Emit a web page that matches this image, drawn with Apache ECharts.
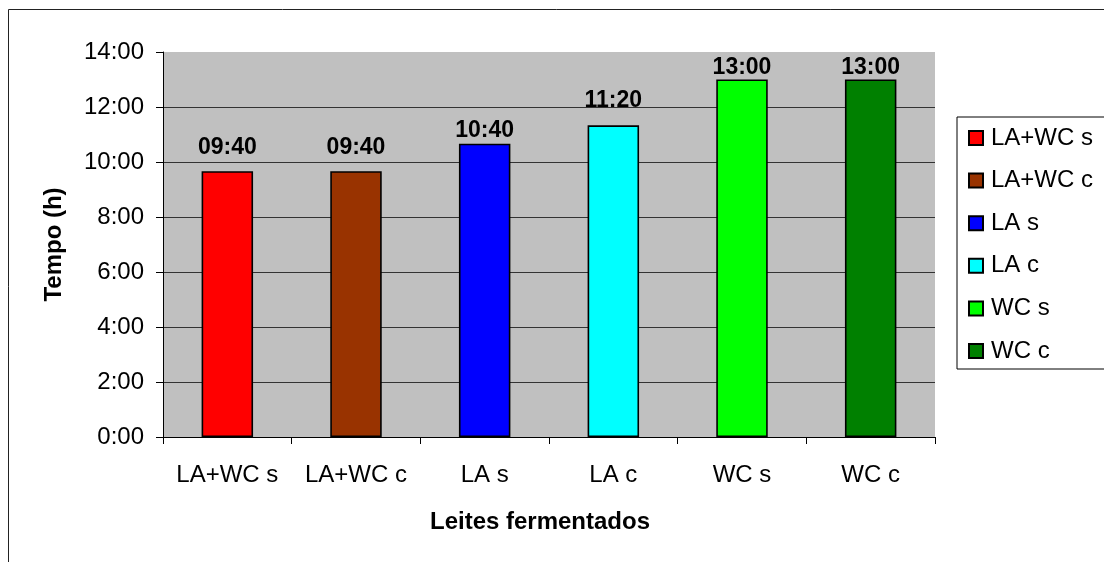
<!DOCTYPE html>
<html>
<head>
<meta charset="utf-8">
<script src="https://cdn.jsdelivr.net/npm/echarts@6/dist/echarts.min.js"></script>
<style>
html,body{margin:0;padding:0;background:#fff;}
#chart{width:1104px;height:562px;}
</style>
</head>
<body>
<div id="chart"></div>
<script>
const categories = ['LA+WC s', 'LA+WC c', 'LA s', 'LA c', 'WC s', 'WC c'];
const valuesMinutes = [580, 580, 640, 680, 780, 780]; // 09:40, 09:40, 10:40, 11:20, 13:00, 13:00
const barColors = ['#FF0000', '#993300', '#0000FF', '#00FFFF', '#00FF00', '#008000'];
const labelDistances = [12, 12, 2, 13, 0, 0]; // style: label gap above each bar
const yMin = 0, yMax = 840, yInterval = 120; // 0:00 .. 14:00 every 2:00

const FONT = "'Liberation Sans', Arial, sans-serif";
function pad2(n) { return (n < 10 ? '0' : '') + n; }
function axisTime(v) { return Math.floor(v / 60) + ':' + pad2(v % 60); }
function labelTime(v) { return pad2(Math.floor(v / 60)) + ':' + pad2(v % 60); }

const series = categories.map((name, i) => ({
  name: name,
  type: 'bar',
  data: categories.map((c, j) => (j === i ? valuesMinutes[i] : '-')),
  barGap: '-100%',
  barWidth: '40%',
  itemStyle: { color: barColors[i], borderColor: '#000', borderWidth: 1.6 },
  label: {
    show: true, position: 'top', distance: labelDistances[i],
    formatter: p => labelTime(p.value),
    fontFamily: FONT, fontWeight: 'bold', fontSize: 23, color: '#000'
  }
}));

const chart = echarts.init(document.getElementById('chart'), null, { renderer: 'canvas' });
chart.setOption({
  animation: false,
  backgroundColor: '#fff',
  textStyle: { fontFamily: FONT },
  graphic: [{
    type: 'rect', z: -10, silent: true,
    shape: { x: 8.5, y: 9.5, width: 1200, height: 700 },
    style: { fill: 'none', stroke: '#222', lineWidth: 1 }
  }],
  grid: {
    left: 163, top: 52, right: 169, bottom: 125,
    show: true, backgroundColor: '#C0C0C0', borderWidth: 0
  },
  legend: {
    orient: 'vertical',
    left: 957, top: 117,
    padding: [9, 40, 6, 11],
    itemGap: 18.6,
    itemWidth: 14, itemHeight: 14,
    icon: 'rect',
    backgroundColor: '#fff',
    borderColor: '#000', borderWidth: 1, borderRadius: 0,
    textStyle: { fontFamily: FONT, fontSize: 24, color: '#000', lineHeight: 24, padding: [0, 0, 0, 3] },
    data: categories
  },
  xAxis: {
    type: 'category',
    data: categories,
    name: 'Leites fermentados',
    nameLocation: 'middle',
    nameGap: 73,
    nameTextStyle: { fontFamily: FONT, fontSize: 24, fontWeight: 'bold', color: '#000', padding: [0, 18, 0, 0] },
    axisLine: { show: true, lineStyle: { color: '#000', width: 1 } },
    axisTick: { show: true, interval: 0, length: 7, lineStyle: { color: '#000' } },
    axisLabel: { interval: 0, fontFamily: FONT, fontSize: 24, color: '#000', margin: 26 },
    splitLine: { show: false }
  },
  yAxis: {
    type: 'value',
    min: yMin, max: yMax, interval: yInterval,
    name: 'Tempo (h)',
    nameLocation: 'middle',
    nameGap: 97,
    nameRotate: 90,
    nameTextStyle: { fontFamily: FONT, fontSize: 24, fontWeight: 'bold', color: '#000' },
    axisLine: { show: true, lineStyle: { color: '#000', width: 1 } },
    axisTick: { show: true, length: 7, lineStyle: { color: '#000' } },
    axisLabel: { fontFamily: FONT, fontSize: 24, color: '#000', margin: 19, formatter: axisTime },
    splitLine: { show: true, showMaxLine: false, lineStyle: { color: '#333', width: 1 } }
  },
  series: series
});
</script>
</body>
</html>
